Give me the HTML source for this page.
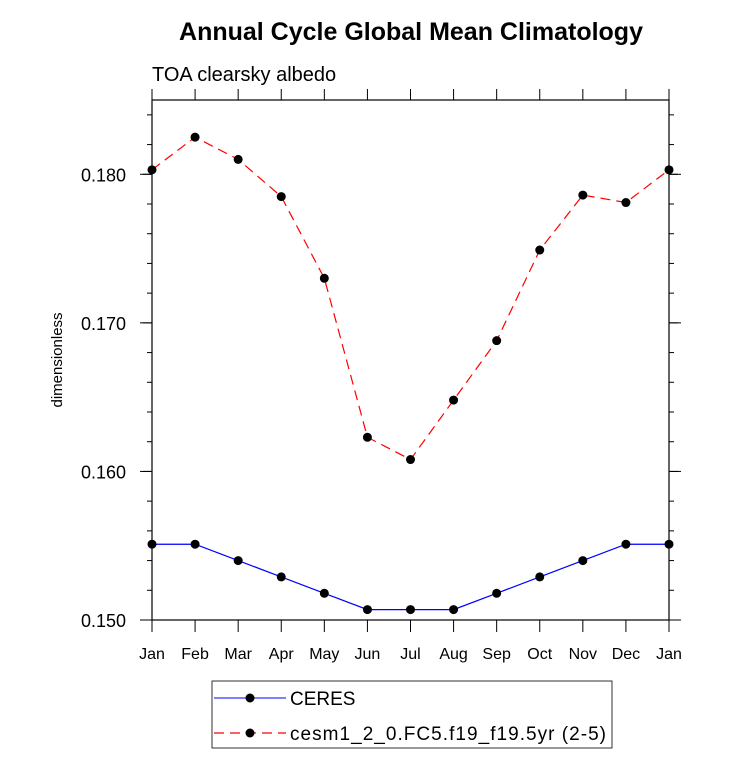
<!DOCTYPE html>
<html><head><meta charset="utf-8"><style>body{margin:0;background:#fff}svg{display:block;font-family:"Liberation Sans",Arial,sans-serif}</style></head>
<body>
<svg id="c" width="733" height="770" xmlns="http://www.w3.org/2000/svg">
<text x="411" y="40" text-anchor="middle" font-size="25" font-weight="bold">Annual Cycle Global Mean Climatology</text>
<text x="152" y="81" font-size="20">TOA clearsky albedo</text>
<text transform="translate(62,360) rotate(-90)" text-anchor="middle" font-size="15">dimensionless</text>
<g id="axes"></g><g id="series"></g>
<g>
<rect x="212" y="681" width="400" height="67" fill="#fff" stroke="#000" stroke-width="0.8"/>
<g><line x1="214" y1="698" x2="286" y2="698" stroke="#00f" stroke-width="1"/><circle cx="250" cy="698" r="4.5"/><text x="290" y="705" font-size="19">CERES</text></g>
<g><line x1="214" y1="733" x2="286" y2="733" stroke="#f00" stroke-width="1.2" stroke-dasharray="10,6"/><circle cx="250" cy="733" r="4.5"/><text x="290" y="740" font-size="19" textLength="316">cesm1_2_0.FC5.f19_f19.5yr (2-5)</text></g>
</g>
</svg>
<script>
const months=["Jan","Feb","Mar","Apr","May","Jun","Jul","Aug","Sep","Oct","Nov","Dec","Jan"];
const ceres=[0.1551,0.1551,0.1540,0.1529,0.1518,0.1507,0.1507,0.1507,0.1518,0.1529,0.1540,0.1551,0.1551];
const cesm=[0.1803,0.1825,0.1810,0.1785,0.1730,0.1623,0.1608,0.1648,0.1688,0.1749,0.1786,0.1781,0.1803];
const yTicks=["0.150","0.160","0.170","0.180"];
const X0=152,X1=669,Y0=620,Y1=100,YMIN=0.150,YMAX=0.185;
const NS="http://www.w3.org/2000/svg";
const xs=i=>X0+(X1-X0)*i/(months.length-1);
const ys=v=>Y0-(Y0-Y1)*(v-YMIN)/(YMAX-YMIN);
function mk(t,a,p){const e=document.createElementNS(NS,t);for(const k in a)e.setAttribute(k,a[k]);p.appendChild(e);return e;}
const ax=document.getElementById('axes');
const fr=mk('rect',{x:X0,y:Y1,width:X1-X0,height:Y0-Y1,fill:'none',stroke:'#000','stroke-width':1.2},ax);


months.forEach((m,i)=>{const x=xs(i);
mk('line',{x1:x,y1:Y0,x2:x,y2:Y0+12,stroke:'#000'},ax);
mk('line',{x1:x,y1:Y1,x2:x,y2:Y1-11,stroke:'#000'},ax);
const t=mk('text',{x:x,y:Y0+39,'text-anchor':'middle','font-size':16},ax);t.textContent=m;

});
for(let k=0;k<=17;k++){const v=YMIN+k*0.002;const y=ys(v);const major=(k%5===0);const L=major?9:5;
mk('line',{x1:X0,y1:y,x2:X0-L,y2:y,stroke:'#000'},ax);
mk('line',{x1:X1,y1:y,x2:X1+L,y2:y,stroke:'#000'},ax);}
yTicks.forEach(s=>{const y=ys(parseFloat(s));
mk('line',{x1:X0,y1:y,x2:X0-12,y2:y,stroke:'#000'},ax);
mk('line',{x1:X1,y1:y,x2:X1+12,y2:y,stroke:'#000'},ax);
const t=mk('text',{x:X0-26,y:y+7,'text-anchor':'end','font-size':18},ax);t.textContent=s;

});
const sg=document.getElementById('series');
function draw(arr,col,dash,name){
const g=mk('g',{},sg);


const a={points:arr.map((v,i)=>xs(i)+','+ys(v)).join(' '),fill:'none',stroke:col,'stroke-width':1.2};
if(dash)a['stroke-dasharray']=dash;
mk('polyline',a,g);
arr.forEach((v,i)=>{const c=mk('circle',{cx:xs(i),cy:ys(v),r:4.5,fill:'#000'},g);

});}
draw(ceres,'#00f',null,'ceres-series');
draw(cesm,'#f00','10,6','cesm-series');
</script>
</body></html>
